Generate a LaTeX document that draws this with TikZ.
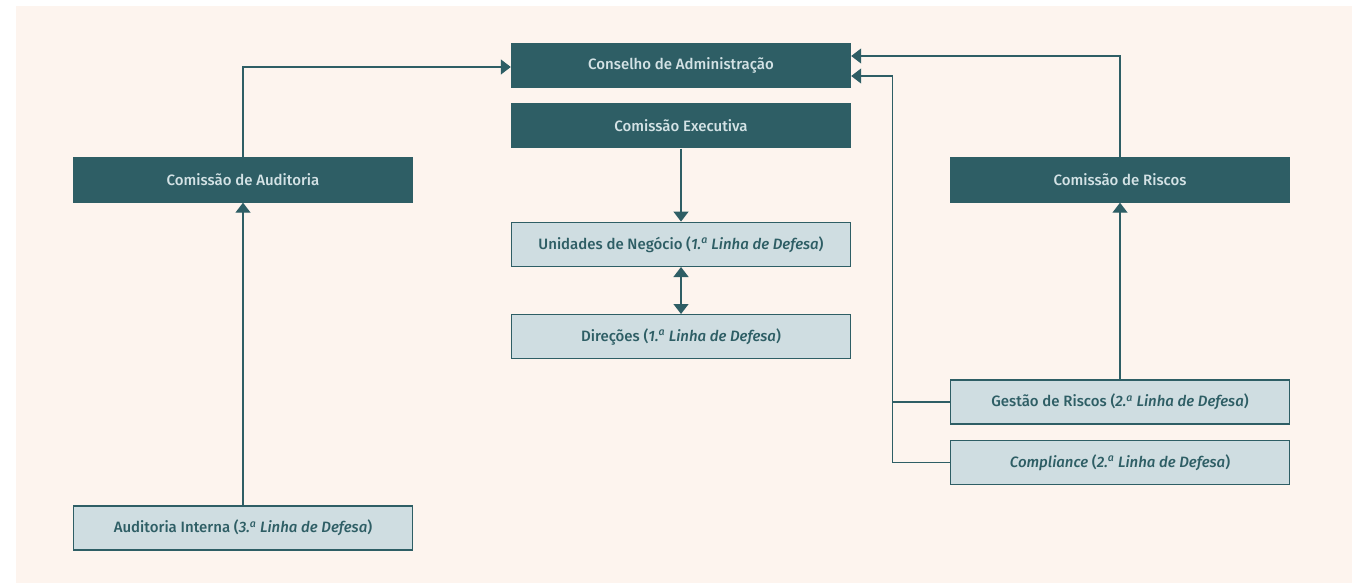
\documentclass[tikz,border=0pt]{standalone}
\usepackage{fontspec}
\setmainfont{Fira Sans}[UprightFont=* Medium, ItalicFont=* Medium Italic]
\usepackage{tikz}
\usetikzlibrary{positioning}
\usetikzlibrary{arrows.meta}
\definecolor{darkteal}{HTML}{2E5E65}
\definecolor{lightteal}{HTML}{CFDDE1}
\definecolor{paletext}{HTML}{D3E2E5}
\definecolor{peach}{HTML}{FDF4EE}
\newcommand{\ord}[1]{#1.\textsuperscript{a}}

\begin{document}
\begin{tikzpicture}[x=1pt,y=-1pt,
	main node/.style={fill=darkteal, text=paletext, minimum width=340pt, minimum height=45pt, inner sep=0pt, font=\fontsize{15}{17}\selectfont},
	sub node/.style={fill=lightteal, draw=darkteal, line width=1.4pt, text=darkteal, minimum width=339pt, minimum height=44pt, inner sep=0pt, font=\fontsize{15}{17}\selectfont},
	link/.style={draw=darkteal, line width=1.3pt},
	arr/.style={link, -{Triangle[width=15pt,length=10pt]}},
	darr/.style={link, {Triangle[width=15pt,length=10pt]}-{Triangle[width=15pt,length=10pt]}}]

	\useasboundingbox (0,0) rectangle (1352,583);
	\fill[peach] (16,6) rectangle (1352,583);

	% centre column
	\node[main node](CA) at (681,65.5){Conselho de Administração};
	\node[main node](CE)[below = 15pt of CA]{Comissão Executiva};
	\node[sub node](UN)[below = 73pt of CE]{Unidades de Negócio (\textit{\ord{1} Linha de Defesa})};
	\node[sub node](DIR)[below = 47pt of UN]{Direções (\textit{\ord{1} Linha de Defesa})};

	% left column
	\node[main node](CAud) at (243,180){Comissão de Auditoria};
	\node[sub node](AI) at (243,528){Auditoria Interna (\textit{\ord{3} Linha de Defesa})};

	% right column
	\node[main node](CR) at (1120,180){Comissão de Riscos};
	\node[sub node](GR) at (1120,402){Gestão de Riscos (\textit{\ord{2} Linha de Defesa})};
	\node[sub node](COMP)[below = 15pt of GR]{\textit{Compliance} (\textit{\ord{2} Linha de Defesa})};

	\draw[arr](AI)--(CAud);
	\draw[arr](CAud.north) |- ([yshift=-1.5pt]CA.west);
	\draw[arr](CE)--(UN);
	\draw[darr](UN)--(DIR);
	\draw[arr](GR)--(CR);
	\draw[arr](CR.north) |- ([yshift=9.5pt]CA.east);
	\draw[arr](COMP.west) -- ++(-57,0) |- ([yshift=-10.5pt]CA.east);
	\draw[link](GR.west) -- ++(-57,0);
\end{tikzpicture}
\end{document}
